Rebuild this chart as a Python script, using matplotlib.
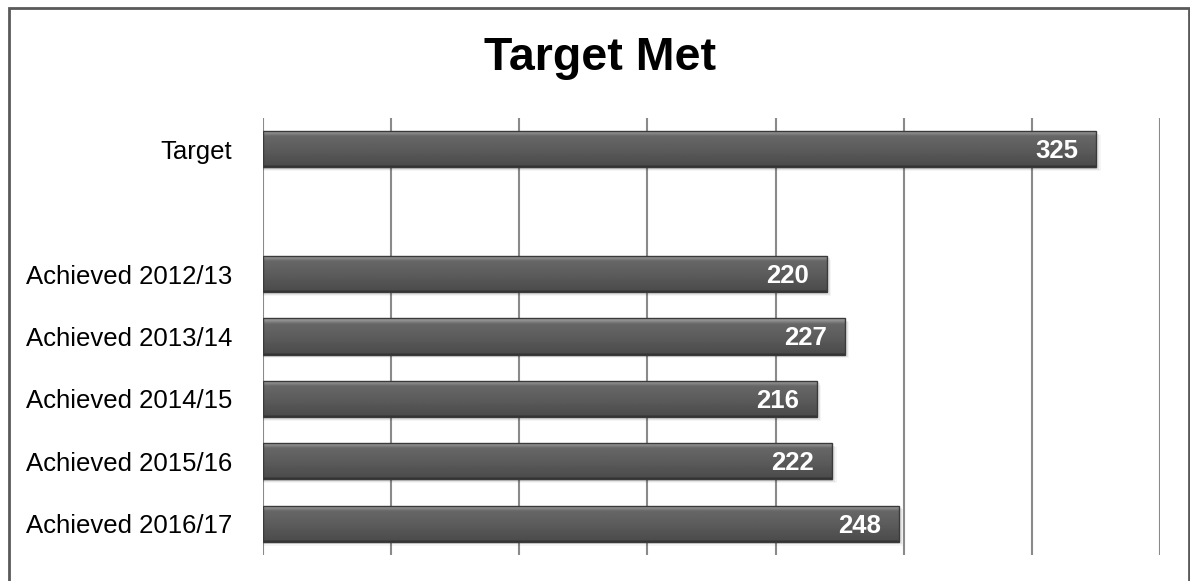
import numpy as np
import matplotlib
matplotlib.use('Agg')
from matplotlib import pyplot as plt
from matplotlib.patches import Rectangle

plt.rcParams['font.family'] = ['Liberation Sans', 'DejaVu Sans']

categories = ['Target', '', 'Achieved 2012/13', 'Achieved 2013/14',
              'Achieved 2014/15', 'Achieved 2015/16', 'Achieved 2016/17']
values = [325, np.nan, 220, 227, 216, 222, 248]
title = 'Target Met'
xmax, xstep = 350, 50

fig = plt.figure(figsize=(11.9, 5.81), dpi=100)
ax = fig.add_axes([263/1190, 1-555/581, (1160-263)/1190, (555-118)/581])

# vertical shading profile of a bar, row 0 = top edge (light) -> bottom (dark)
prof = np.concatenate([[0.55], np.linspace(0.62, 0.42, 6), np.linspace(0.40, 0.35, 20),
                       np.linspace(0.34, 0.30, 14), [0.22, 0.20]])
grad = prof[:, None]

h = 0.58
ys = np.arange(len(categories))
for y, v in zip(ys, values):
    if np.isnan(v):
        continue
    # soft shadow under the bar
    for k, a in enumerate([0.10, 0.07, 0.04]):
        ax.add_patch(Rectangle((0, y - h/2 + 0.02*(k+1)), v + 0.6*(k+1), h,
                               color='k', alpha=a, lw=0, zorder=2))
    bar = ax.barh(y, v, height=h, color='none', zorder=3)[0]
    # y axis is inverted: "top" of the extent is y - h/2
    im = ax.imshow(grad, cmap='gray', vmin=0, vmax=1, aspect='auto', origin='upper',
                   extent=(0, v, y + h/2, y - h/2), zorder=3, interpolation='bilinear')
    im.set_clip_path(bar)
    ax.add_patch(Rectangle((0, y - h/2), v, h, fill=False, edgecolor='#3a3a3a',
                           lw=1, zorder=4))
    ax.text(v - 7, y + 0.03, f'{v:.0f}', ha='right', va='center', color='white',
            fontsize=18.5, fontweight='bold', zorder=5)

ax.set_xlim(0, xmax)
ax.set_ylim(len(categories) - 0.5, -0.5)
ax.set_xticks(np.arange(0, xmax + 1, xstep))
ax.set_xticklabels([])
ax.set_yticks(ys)
ax.set_yticklabels(categories, fontsize=18.5)
ax.tick_params(axis='y', length=0, pad=22)
ax.tick_params(axis='x', length=0)
ax.grid(axis='x', color='#8a8a8a', lw=1.5, zorder=1)
ax.set_axisbelow(True)
for s in ax.spines.values():
    s.set_visible(False)

fig.text(600/1190, 1-58/581, title, ha='center', va='center',
         fontsize=33.5, fontweight='bold')

# outer frame (bottom edge runs off the picture)
fig.add_artist(Rectangle((9/1190, -0.05), (1189-9)/1190, 1.05 - 8/581,
                         transform=fig.transFigure, fill=False,
                         edgecolor='#5a5a5a', lw=2))

fig.savefig('out.png', dpi=100)
